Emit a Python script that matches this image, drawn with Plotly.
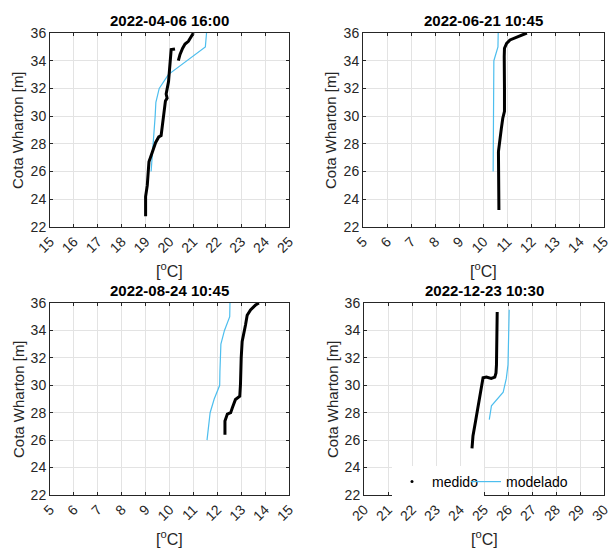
import plotly.graph_objects as go

# ---------------- data ----------------
titles = ["2022-04-06 16:00", "2022-06-21 10:45", "2022-08-24 10:45", "2022-12-23 10:30"]
x_ranges = [[15, 25], [5, 15], [5, 15], [20, 30]]
y_ticks = [22, 24, 26, 28, 30, 32, 34, 36]

# medido (measured profiles): temperature [°C], cota [m]
med1_t = [19.0, 19.0, 19.07, 19.14, 19.28, 19.42, 19.55, 19.65, 19.7, 19.77, 19.83, 19.9, 19.86, 19.96, 20.0, 20.03, 20.07, 20.23,
          None, 20.37, 20.4, 20.44, 20.55, 20.65, 20.79, 20.93, 21.0]
med1_z = [22.77, 24.2, 25.0, 26.7, 27.4, 28.1, 28.5, 28.6, 29.3, 30.3, 31.1, 31.3, 31.6, 32.5, 33.5, 34.2, 34.8, 34.85,
          None, 34.0, 34.2, 34.45, 34.9, 35.2, 35.4, 35.8, 36.0]

med2_t = [10.64, 10.64, 10.64, 10.62, 10.66, 10.68, 10.74, 10.8, 10.87, 10.87, 10.85, 10.86, 10.87, 10.96, 11.1, 11.37, 11.6, 11.8]
med2_z = [23.23, 24.5, 26.0, 27.45, 28.0, 28.4, 29.1, 29.85, 30.35, 32.0, 33.7, 34.3, 34.9, 35.25, 35.5, 35.7, 35.85, 36.0]

med3_t = [12.32, 12.32, 12.42, 12.56, 12.63, 12.76, 12.94, 12.97, 13.0, 13.04, 13.18, 13.25, 13.39, 13.6, 13.74]
med3_z = [26.39, 27.4, 27.9, 28.0, 28.36, 28.96, 29.2, 30.07, 32.0, 33.2, 34.4, 35.1, 35.5, 35.85, 36.0]

med4_t = [24.5, 24.54, 24.65, 24.75, 24.82, 24.89, 24.96, 25.1, 25.3, 25.45, 25.5, 25.52, 25.52, 25.55]
med4_z = [25.4, 26.3, 27.4, 28.4, 29.1, 30.07, 30.55, 30.6, 30.5, 30.6, 30.9, 31.5, 33.9, 35.35]

# modelado (model profiles)
mod1_t = [19.23, 19.28, 19.33, 19.37, 19.40, 19.43, 19.57, 19.95, 20.7, 21.5, 21.55]
mod1_z = [26, 27, 28, 29, 30, 31, 32, 33, 34, 35, 36]

mod2_t = [10.40, 10.40, 10.40, 10.40, 10.40, 10.40, 10.41, 10.41, 10.43, 10.60, 10.61]
mod2_z = [26, 27, 28, 29, 30, 31, 32, 33, 34, 35, 36]

mod3_t = [11.57, 11.62, 11.70, 11.87, 12.10, 12.11, 12.12, 12.15, 12.30, 12.52, 12.53]
mod3_z = [26, 27, 28, 29, 30, 31, 32, 33, 34, 35, 36]

mod4_t = [25.22, 25.31, 25.80, 25.93, 26.00, 26.02, 26.03, 26.04, 26.05]
mod4_z = [27.5, 28.5, 29.5, 30.5, 31.5, 32.5, 33.5, 34.5, 35.5]

meds = [(med1_t, med1_z), (med2_t, med2_z), (med3_t, med3_z), (med4_t, med4_z)]
mods = [(mod1_t, mod1_z), (mod2_t, mod2_z), (mod3_t, mod3_z), (mod4_t, mod4_z)]

# ---------------- layout geometry ----------------
W, H = 609, 550
boxes = [(50, 289, 33, 227), (363, 604, 33, 227), (50, 289, 303, 495), (364, 604, 303, 495)]

BLUE = "#4DBEEE"
AX = "#262626"
FONT = "Liberation Sans, Arial, sans-serif"

fig = go.Figure()
layout = dict(width=W, height=H, margin=dict(l=0, r=0, t=0, b=0, autoexpand=False),
              paper_bgcolor="white", plot_bgcolor="white",
              font=dict(family=FONT, size=14, color=AX),
              annotations=[])

for i in range(4):
    x0, x1, y0, y1 = boxes[i]
    xa = "xaxis" if i == 0 else f"xaxis{i+1}"
    ya = "yaxis" if i == 0 else f"yaxis{i+1}"
    xr = "x" if i == 0 else f"x{i+1}"
    yr = "y" if i == 0 else f"y{i+1}"
    lo, hi = x_ranges[i]
    layout[xa] = dict(domain=[x0 / W, x1 / W], range=[lo, hi], anchor=yr,
                      tickvals=list(range(lo, hi + 1)), ticktext=[str(v) for v in range(lo, hi + 1)],
                      tickangle=-45, showgrid=True, gridcolor="#e3e3e3", gridwidth=1,
                      showline=True, linecolor=AX, linewidth=1, mirror="ticks",
                      ticks="inside", ticklen=3, tickcolor=AX, zeroline=False, automargin=False,
                      ticklabeloverflow="allow",
                      tickfont=dict(size=14, color=AX, family=FONT))
    layout[ya] = dict(domain=[1 - y1 / H, 1 - y0 / H], range=[22, 36], anchor=xr,
                      tickvals=y_ticks, showgrid=True, gridcolor="#e3e3e3", gridwidth=1,
                      showline=True, linecolor=AX, linewidth=1, mirror="ticks",
                      ticks="inside", ticklen=3, tickcolor=AX, zeroline=False, automargin=False,
                      ticklabeloverflow="allow",
                      tickfont=dict(size=14, color=AX, family=FONT))

    mt, mz = mods[i]
    fig.add_trace(go.Scatter(x=mt, y=mz, mode="lines", line=dict(color=BLUE, width=1.2),
                             xaxis=xr, yaxis=yr, showlegend=False, name="modelado"))
    dt, dz = meds[i]
    fig.add_trace(go.Scatter(x=dt, y=dz, mode="lines", line=dict(color="black", width=3),
                             xaxis=xr, yaxis=yr, showlegend=False, name="medido"))

    cx = (x0 + x1) / 2 / W
    layout["annotations"].append(dict(text="<b>" + titles[i] + "</b>", x=cx, y=1 - (y0 - 13) / H,
                                      xref="paper", yref="paper", showarrow=False,
                                      font=dict(size=15, color="black", family=FONT),
                                      xanchor="center", yanchor="middle"))
    layout["annotations"].append(dict(text="[<sup>o</sup>C]", x=cx, y=1 - (y1 + 43) / H,
                                      xref="paper", yref="paper", showarrow=False,
                                      font=dict(size=16, color=AX, family=FONT),
                                      xanchor="center", yanchor="middle"))
    layout["annotations"].append(dict(text="Cota Wharton [m]", x=(x0 - 32) / W, y=1 - (y0 + y1) / 2 / H,
                                      xref="paper", yref="paper", showarrow=False, textangle=-90,
                                      font=dict(size=15, color=AX, family=FONT),
                                      xanchor="center", yanchor="middle"))

# legend entries (in last panel), each in its own legend box for exact placement
fig.add_trace(go.Scatter(x=[None], y=[None], mode="markers", marker=dict(color="black", size=3),
                         xaxis="x4", yaxis="y4", name="medido", showlegend=True, legend="legend"))
fig.add_trace(go.Scatter(x=[None], y=[None], mode="lines", line=dict(color=BLUE, width=1.2),
                         xaxis="x4", yaxis="y4", name="modelado", showlegend=True, legend="legend2"))

common_leg = dict(orientation="h", yanchor="middle", xanchor="left", borderwidth=0,
                  font=dict(size=14, color="black", family=FONT), itemwidth=30)
layout["legend"] = dict(x=392 / W, y=1 - 482 / H, bgcolor="white", **common_leg)
layout["legend2"] = dict(x=466 / W, y=1 - 482 / H, bgcolor="rgba(255,255,255,0)", **common_leg)
fig.update_layout(**layout)
fig.write_html("out.html", config={"displayModeBar": False},
               post_script="document.body.style.margin='0';document.body.style.padding='0';")
